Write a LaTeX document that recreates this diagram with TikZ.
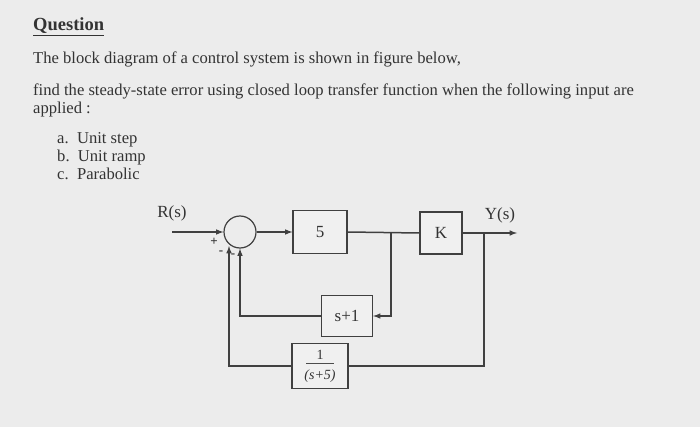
\documentclass[tikz,border=0pt]{standalone}
\usepackage{fontspec}
\setmainfont{Liberation Serif}
\begin{document}
\begin{tikzpicture}[x=1pt,y=-1pt,
  txt/.style={anchor=base west,inner sep=0,font=\fontsize{16.6}{19}\selectfont,text=black!80},
  blk/.style={draw=black!75,line width=1.2pt,fill=gray!12,minimum width=#1,inner sep=0},
  ln/.style={draw=black!75,line width=1.5pt},
  arr/.style={ln,-latex},
  lab/.style={font=\fontsize{17}{19}\selectfont,text=black!80,inner sep=0},
  sgn/.style={font=\fontsize{13}{14}\selectfont\bfseries,text=black!80,inner sep=0}]
\fill[gray!15] (0,0) rectangle (700,427);
\useasboundingbox (0,0) rectangle (700,427);
\node[txt,font=\bfseries\fontsize{18.5}{21}\selectfont] (q) at (33,31) {\underline{Question}};
\node[txt] (l1) at (33,64) {The block diagram of a control system is shown in figure below,};
\node[txt] (l2) at (33,96) {find the steady-state error using closed loop transfer function when the following input are};
\node[txt] (l3) at (33,114) {applied :};
\node[txt] (a) at (57,144) {a.\ \ Unit step};
\node[txt] (b) at (57,162) {b.\ \ Unit ramp};
\node[txt] (c) at (57,180) {c.\ \ Parabolic};
% diagram
\node[circle,draw=black!75,line width=1.2pt,minimum size=32pt,inner sep=0] (sum) at (240,232) {};
\node[blk=54pt,minimum height=43pt,lab] (g5) at (320,232) {5};
\node[blk=42pt,minimum height=42pt,lab] (k) at (441,233) {K};
\node[blk=51pt,minimum height=41pt,lab] (h1) at (347,316) {s+1};
\node[blk=56pt,minimum height=45pt] (h2) at (320,366) {};
\node[font=\fontsize{14}{15}\selectfont,text=black!80,inner sep=0] (h2n) at (320,355) {1};
\draw[black!70,line width=0.7pt] (306,363) -- (334,363);
\node[font=\fontsize{14}{15}\selectfont\itshape,text=black!80,inner sep=0] (h2d) at (320,376) {(s+5)};
\node[lab] (rs) at (172,213) {R(s)};
\node[lab] (ys) at (500,215) {Y(s)};
\node[sgn] (pl) at (214,242) {+};
\node[sgn] (mi) at (221,253) {-};
\node[sgn] (mi2) at (233,256) {-};
\coordinate (rin) at (172,232);
\coordinate (br) at (391,233);
\coordinate (yb) at (484,233);
\coordinate (yout) at (517,233);
\coordinate (fbin) at (229,246);
\draw[arr] (rin) -- (sum.west);
\draw[arr] (sum.east) -- (g5.west);
\draw[ln] (g5.east) -- (k.west);
\draw[arr] (k.east) -- (yout);
\draw[arr] (br) |- (h1.east);
\draw[arr] (h1.west) -| (sum.south);
\draw[ln] (yb) |- (h2.east);
\draw[arr] (h2.west) -| (fbin);
\end{tikzpicture}
\end{document}
